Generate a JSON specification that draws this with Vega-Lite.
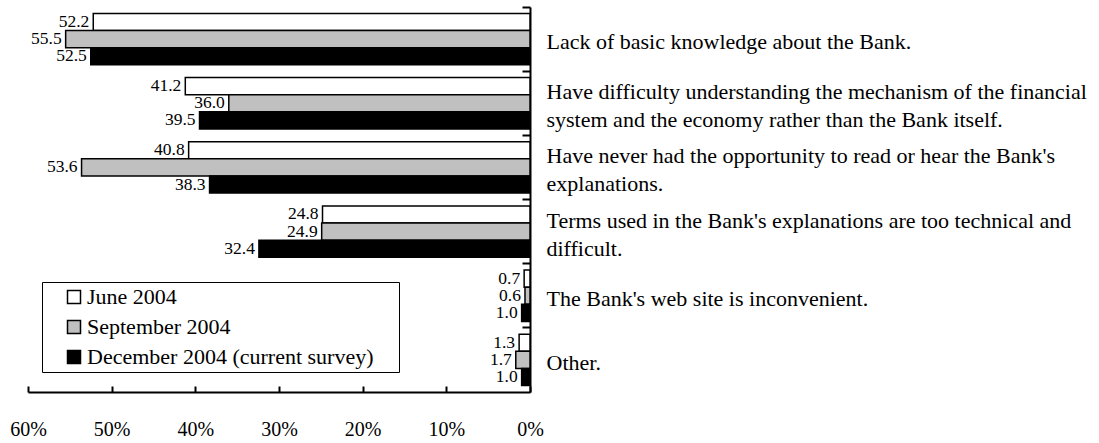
{
  "$schema": "https://vega.github.io/schema/vega-lite/v6.json",
  "width": 502,
  "height": 385,
  "autosize": {"type": "none"},
  "padding": {"left": 28, "top": 7, "right": 569, "bottom": 51},
  "config": {"view": {"stroke": null}, "font": "Liberation Serif"},
  "data": {
    "values": [
      {"category": "Lack of basic knowledge about the Bank.", "period": "June 2004", "value": 52.2},
      {"category": "Lack of basic knowledge about the Bank.", "period": "September 2004", "value": 55.5},
      {"category": "Lack of basic knowledge about the Bank.", "period": "December 2004 (current survey)", "value": 52.5},
      {"category": "Have difficulty understanding the mechanism of the financial system and the economy rather than the Bank itself.", "period": "June 2004", "value": 41.2},
      {"category": "Have difficulty understanding the mechanism of the financial system and the economy rather than the Bank itself.", "period": "September 2004", "value": 36.0},
      {"category": "Have difficulty understanding the mechanism of the financial system and the economy rather than the Bank itself.", "period": "December 2004 (current survey)", "value": 39.5},
      {"category": "Have never had the opportunity to read or hear the Bank's explanations.", "period": "June 2004", "value": 40.8},
      {"category": "Have never had the opportunity to read or hear the Bank's explanations.", "period": "September 2004", "value": 53.6},
      {"category": "Have never had the opportunity to read or hear the Bank's explanations.", "period": "December 2004 (current survey)", "value": 38.3},
      {"category": "Terms used in the Bank's explanations are too technical and difficult.", "period": "June 2004", "value": 24.8},
      {"category": "Terms used in the Bank's explanations are too technical and difficult.", "period": "September 2004", "value": 24.9},
      {"category": "Terms used in the Bank's explanations are too technical and difficult.", "period": "December 2004 (current survey)", "value": 32.4},
      {"category": "The Bank's web site is inconvenient.", "period": "June 2004", "value": 0.7},
      {"category": "The Bank's web site is inconvenient.", "period": "September 2004", "value": 0.6},
      {"category": "The Bank's web site is inconvenient.", "period": "December 2004 (current survey)", "value": 1.0},
      {"category": "Other.", "period": "June 2004", "value": 1.3},
      {"category": "Other.", "period": "September 2004", "value": 1.7},
      {"category": "Other.", "period": "December 2004 (current survey)", "value": 1.0}
    ]
  },
  "encoding": {
    "yOffset": {
      "field": "period",
      "type": "nominal",
      "sort": ["June 2004", "September 2004", "December 2004 (current survey)"],
      "scale": {"paddingInner": 0, "paddingOuter": 0.375}
    },
    "x": {
      "field": "value",
      "type": "quantitative",
      "stack": null,
      "scale": {"domain": [0, 60], "reverse": true},
      "axis": {
        "orient": "bottom",
        "title": null,
        "values": [0, 10, 20, 30, 40, 50, 60],
        "labelExpr": "datum.value + '%'",
        "grid": false,
        "domainColor": "black",
        "domainWidth": 2,
        "tickColor": "black",
        "tickWidth": 2,
        "tickSize": -6,
        "labelFont": "Liberation Serif",
        "labelFontSize": 20,
        "labelColor": "black",
        "labelPadding": 33,
        "labelFlush": false,
        "labelOverlap": false
      }
    }
  },
  "layer": [
    {
      "mark": {"type": "text", "align": "right", "baseline": "middle", "dx": -4, "fontSize": 17.5, "font": "Liberation Serif", "color": "black"},
      "encoding": {
        "y": {
          "field": "category",
          "type": "nominal",
          "sort": [
            "Lack of basic knowledge about the Bank.",
            "Have difficulty understanding the mechanism of the financial system and the economy rather than the Bank itself.",
            "Have never had the opportunity to read or hear the Bank's explanations.",
            "Terms used in the Bank's explanations are too technical and difficult.",
            "The Bank's web site is inconvenient.",
            "Other."
          ],
          "scale": {"paddingInner": 0, "paddingOuter": 0},
          "axis": {
            "orient": "right",
            "title": null,
            "domain": true,
            "domainColor": "black",
            "domainWidth": 2,
            "ticks": true,
            "bandPosition": 0,
            "tickSize": -8,
            "tickColor": "black",
            "tickWidth": 2,
            "labels": false
          }
        },
        "text": {"field": "value", "type": "quantitative", "format": ".1f"}
      }
    },
    {
      "mark": {"type": "bar", "stroke": "black", "strokeWidth": 1.5},
      "encoding": {
        "y": {
          "field": "category",
          "type": "nominal",
          "sort": [
            "Lack of basic knowledge about the Bank.",
            "Have difficulty understanding the mechanism of the financial system and the economy rather than the Bank itself.",
            "Have never had the opportunity to read or hear the Bank's explanations.",
            "Terms used in the Bank's explanations are too technical and difficult.",
            "The Bank's web site is inconvenient.",
            "Other."
          ],
          "scale": {"paddingInner": 0, "paddingOuter": 0},
          "axis": {
            "orient": "right",
            "title": null,
            "domain": false,
            "ticks": false,
            "tickSize": 0,
            "labelAlign": "left",
            "labelBaseline": "middle",
            "labelFont": "Liberation Serif",
            "labelFontSize": 22,
            "labelColor": "black",
            "labelPadding": 16,
            "labelLineHeight": 28,
            "labelLimit": 0,
            "labelOffset": {
              "condition": {"test": "indexof(datum.value, 'mechanism') >= 0 || indexof(datum.value, 'opportunity') >= 0 || indexof(datum.value, 'technical') >= 0", "value": -11},
              "value": 3
            },
            "labelExpr": "indexof(datum.value, 'mechanism') >= 0 ? ['Have difficulty understanding the mechanism of the financial', 'system and the economy rather than the Bank itself.'] : indexof(datum.value, 'opportunity') >= 0 ? ['Have never had the opportunity to read or hear the Bank\\'s', 'explanations.'] : indexof(datum.value, 'technical') >= 0 ? ['Terms used in the Bank\\'s explanations are too technical and', 'difficult.'] : datum.value"
          }
        },
        "color": {
          "field": "period",
          "type": "nominal",
          "scale": {
            "domain": ["June 2004", "September 2004", "December 2004 (current survey)"],
            "range": ["white", "#c0c0c0", "black"]
          },
          "legend": {
            "orient": "none",
            "legendX": 14,
            "legendY": 275,
            "title": " ",
            "titleOrient": "right",
            "titlePadding": 22,
            "titleFontSize": 10,
            "direction": "vertical",
            "strokeColor": "black",
            "padding": 4,
            "symbolType": "square",
            "symbolSize": 169,
            "symbolStrokeColor": "black",
            "symbolStrokeWidth": 1.5,
            "symbolOffset": 17,
            "labelOffset": 2,
            "labelFont": "Liberation Serif",
            "labelFontSize": 22,
            "labelColor": "black",
            "labelLimit": 0,
            "rowPadding": 8
          }
        }
      }
    }
  ],
  "resolve": {"axis": {"y": "independent"}}
}
